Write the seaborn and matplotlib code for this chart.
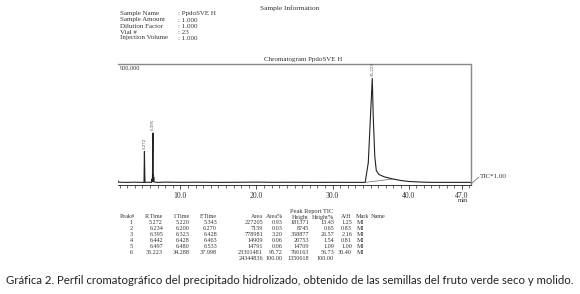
import matplotlib
matplotlib.use("Agg")
import matplotlib.pyplot as plt
import seaborn as sns
import pandas as pd
from matplotlib.ticker import FixedLocator

# ---------------- data ----------------
# chromatogram trace (time in min, intensity)
trace_time = [1.8, 1.85, 1.95, 3.0, 4.0, 5.0, 5.22, 5.272, 5.34, 6.0, 6.20, 6.234, 6.27,
              6.323, 6.395, 6.43, 6.442, 6.463, 6.497, 6.533, 7.0, 8.0, 10.0, 12.0,
              15.0, 18.0, 20.0, 22.0, 25.0, 28.0, 30.0, 32.0, 34.0, 34.288, 34.7,
              35.0, 35.223, 35.35, 35.55, 35.75, 36.1, 36.8, 37.5, 38.0, 39.0, 40.0,
              41.5, 43.0, 45.0, 48.2]
trace_int = [12000, 2000, 1000, 0, 1500, 0, 0, 235000, 0, 1000, 0, 25000, 4000,
             5000, 375000, 20000, 60000, 10000, 40000, 3000, 0, 2000, 500, 1500,
             0, 1000, 2000, 500, 1000, 0, 500, 0, 0, 0, 150000,
             520000, 790000, 500000, 200000, 90000, 60000, 42000, 32000, 25000, 14000, 7000,
             2500, 0, 0, 0]

peak_label_time = [5.272, 6.395, 35.223]
peak_label_int = [235000, 375000, 790000]
peak_label_text = ["5.272", "6.395", "35.223"]

x_major = [10.0, 20.0, 30.0, 40.0, 47.0]
x_major_labels = ["10.0", "20.0", "30.0", "40.0", "47.0"]

info_labels = ["Sample Name", "Sample Amount", "Dilution Factor", "Vial #", "Injection Volume"]
info_values = [": PpdoSVE H", ": 1.000", ": 1.000", ": 23", ": 1.000"]

peak_no = ["1", "2", "3", "4", "5", "6"]
r_time = ["5.272", "6.234", "6.395", "6.442", "6.497", "35.223"]
i_time = ["5.220", "6.200", "6.323", "6.428", "6.480", "34.288"]
f_time = ["5.343", "6.270", "6.428", "6.463", "6.533", "37.998"]
area = ["227205", "7159", "778981", "14909", "14791", "23301481"]
area_pct = ["0.93", "0.03", "3.20", "0.06", "0.06", "95.72"]
height = ["181371", "8745", "358877", "20753", "14709", "766163"]
height_pct = ["13.43", "0.65", "26.57", "1.54", "1.09", "56.73"]
a_h = ["1.25", "0.83", "2.16", "0.81", "1.00", "30.40"]
mark = ["MI", "MI", "MI", "MI", "MI", "MI"]
total_area = "24344836"
total_height = "1350618"

caption = ("Gráfica 2. Perfil cromatográfico del precipitado hidrolizado, obtenido de las "
           "semillas del fruto verde seco y molido.")

# ---------------- figure ----------------
W, H = 580, 294
sns.set_style("white")
plt.rcParams["font.family"] = ["Liberation Serif", "DejaVu Serif"]
fig = plt.figure(figsize=(W / 100, H / 100), dpi=100)

x0, x1, yt, yb = 118, 471, 64, 185
ax = fig.add_axes([x0 / W, 1 - yb / H, (x1 - x0) / W, (yb - yt) / H])

df = pd.DataFrame({"t": trace_time, "i": trace_int})
sns.lineplot(data=df, x="t", y="i", ax=ax, color="#222222", linewidth=0.8,
             estimator=None, sort=False)
# integration baseline under main peak
sns.lineplot(x=[34.288, 37.998], y=[0, 26000], ax=ax, color="#666666",
             linewidth=0.5, estimator=None)

XMIN, XMAX, YMIN, YMAX = 1.8, 48.2, -20000, 900000
ax.set_xlim(XMIN, XMAX)
ax.set_ylim(YMIN, YMAX)
ax.set_xlabel("")
ax.set_ylabel("")
ax.set_yticks([])
ax.xaxis.set_major_locator(FixedLocator(x_major))
ax.xaxis.set_minor_locator(FixedLocator([v for v in range(2, 49)]))
ax.set_xticklabels(x_major_labels, fontsize=5.5, color="#333333")
ax.tick_params(axis="x", which="major", direction="out", length=3, width=0.6,
               color="#333333", pad=2, bottom=True)
ax.tick_params(axis="x", which="minor", direction="out", length=2, width=0.5,
               color="#333333", bottom=True)
# frame: only top, right and bottom edges (no left edge)
for s in ax.spines.values():
    s.set_visible(False)
ax.axhline(YMAX, color="#888888", linewidth=1.0, clip_on=False)
ax.axvline(XMAX, color="#888888", linewidth=1.0, clip_on=False)
ax.axhline(YMIN, color="#333333", linewidth=0.7, clip_on=False)

for t, v, s in zip(peak_label_time, peak_label_int, peak_label_text):
    ax.annotate(s, (t, v), xytext=(0, 2), textcoords="offset points",
                rotation=90, ha="center", va="bottom", fontsize=3.5, color="#444444")


def T(px, py, s, size=5.0, ha="left", va="center", family=None, color="#333333"):
    kw = {}
    if family:
        kw["family"] = family
    fig.text(px / W, 1 - py / H, s, fontsize=size, ha=ha, va=va, color=color, **kw)


# header
T(290, 8, "Sample Information", size=5.3, ha="center")
for k, (lab, val) in enumerate(zip(info_labels, info_values)):
    y = 14 + 6 * k
    T(120, y, lab, size=5.0)
    T(178, y, val, size=5.0)
T(303, 60, "Chromatogram PpdoSVE H", size=5.0, ha="center")
T(120, 68, "900,000", size=4.5)
T(463, 201, "min", size=4.8, ha="center")
T(480, 177, "TIC*1.00", size=5.0)
fig.add_artist(plt.Line2D([471 / W, 479 / W], [1 - 184 / H, 1 - 177 / H],
                          color="#777777", linewidth=0.6))

# peak report table
fs = 4.4
T(312, 211, "Peak Report TIC", size=fs + 0.2, ha="center")
hdr_y = 217
T(120, hdr_y, "Peak#", size=fs)
cols = [(163, "R.Time", r_time), (190, "I.Time", i_time), (217, "F.Time", f_time),
        (263, "Area", area), (283, "Area%", area_pct), (309, "Height", height),
        (334, "Height%", height_pct), (352, "A/H", a_h)]
for xr, h, vals in cols:
    T(xr, hdr_y, h, size=fs, ha="right")
T(356, hdr_y, "Mark", size=fs)
T(371, hdr_y, "Name", size=fs)
for r in range(len(peak_no)):
    y = 223 + 6 * r
    T(133, y, peak_no[r], size=fs, ha="right")
    for xr, h, vals in cols:
        T(xr, y, vals[r], size=fs, ha="right")
    T(357, y, mark[r], size=fs)
T(263, 259, total_area, size=fs, ha="right")
T(283, 259, "100.00", size=fs, ha="right")
T(309, 259, total_height, size=fs, ha="right")
T(334, 259, "100.00", size=fs, ha="right")

# caption
T(290, 281, caption, size=8.2, ha="center", family=["Lato", "DejaVu Sans"], color="#222222")

fig.savefig("out.png", dpi=100, facecolor="white")
